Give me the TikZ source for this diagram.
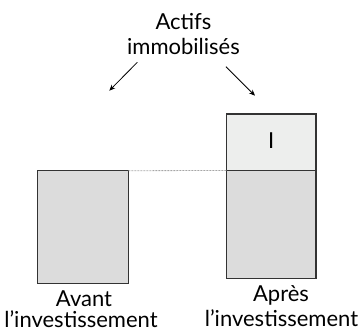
\documentclass[tikz,border=0pt]{standalone}
\usepackage{fontspec}
\setmainfont{Lato}
\usetikzlibrary{arrows.meta}
\definecolor{boxgray}{HTML}{DCDCDC}
\definecolor{boxlight}{HTML}{EDEEED}
\definecolor{edge}{HTML}{333333}
\tikzset{
  block/.style={draw=edge, line width=1.3pt},
  lbl/.style={font=\fontsize{22}{24}\selectfont, text=black, inner sep=0pt, anchor=base},
  pointer/.style={draw=black, line width=0.8pt, -{Stealth[length=6pt,width=5pt]}},
  level/.style={draw=gray!70, line width=0.8pt, dash pattern=on 2pt off 1pt}
}
\begin{document}
\begin{tikzpicture}[x=1pt,y=-1pt]
  \useasboundingbox (0,0) rectangle (361,331);
  % before: one block of fixed assets
  \draw[block, fill=boxgray] (37.5,170.7) rectangle (128.3,283.3);
  \coordinate (beforetop) at (128.3,170.7);
  % after: same block plus the new investment on top
  \draw[block, fill=boxgray] (226.7,170.5) rectangle (316,278.3);
  \draw[block, fill=boxlight] (226.7,114) rectangle (316,170.5);
  \coordinate (aftertop) at (226.7,170.5);
  \node[lbl] (inv) at (271.3,149) {I};
  \draw[level] (beforetop) -- (aftertop);
  % title and pointers
  \node[lbl] (title1) at (183.5,29.5) {Actifs};
  \node[lbl] (title2) at (183.5,54.5) {immobilisés};
  \coordinate (ls) at (137.3,62.3);
  \coordinate (le) at (109.3,90.7);
  \coordinate (rs) at (226,66.7);
  \coordinate (re) at (255,95.7);
  \draw[pointer] (ls) -- (le);
  \draw[pointer] (rs) -- (re);
  % captions
  \node[lbl] (av1) at (84,306.5) {Avant};
  \node[lbl] (av2) at (81,327.5) {l’investissement};
  \node[lbl] (ap1) at (281,301.5) {Après};
  \node[lbl] (ap2) at (281.5,326.5) {l’investissement};
\end{tikzpicture}
\end{document}
